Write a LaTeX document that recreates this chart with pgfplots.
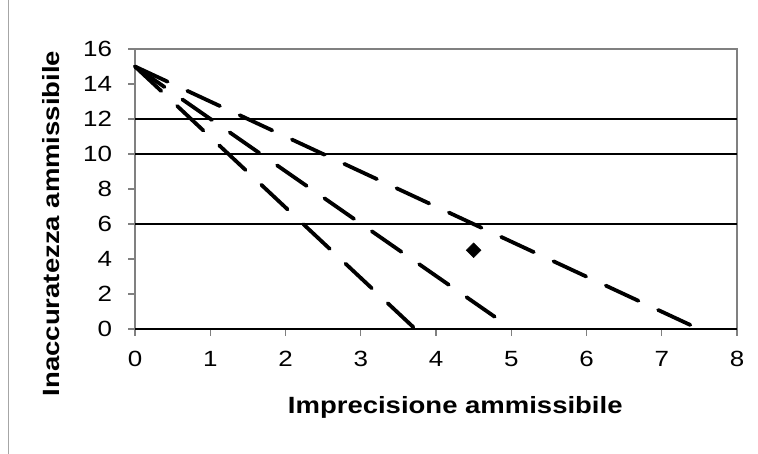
\documentclass[border=0pt]{standalone}
\usepackage{pgfplots}
\pgfplotsset{compat=1.18}
\usepackage{fontspec}
\setmainfont{Liberation Sans}
\begin{document}
\begin{tikzpicture}[x=1pt,y=1pt]
\useasboundingbox (0,0) rectangle (758,454);
\draw[gray!70, line width=1.4pt] (8.5,0) -- (8.5,454);
\begin{axis}[
  at={(135pt,125pt)}, anchor=south west,
  scale only axis, width=602pt, height=280pt,
  xmin=0, xmax=8, ymin=0, ymax=16,
  xtick={0,1,...,8}, ytick={0,2,...,16},
  tick align=outside, major tick length=7pt,
  xtick pos=bottom, ytick pos=left,
  tick style={gray, line width=1.2pt},
  axis line style={gray, line width=1.4pt},
  extra y ticks={0,6,10,12},
  extra y tick labels={},
  extra y tick style={major tick length=0pt, grid=major, major grid style={black, line width=1.2pt}},
  /pgf/number format/assume math mode=true,
  tick label style={font=\fontsize{22}{26}\selectfont, xscale=1.18},
  xticklabel style={yshift=-12pt},
  yticklabel style={xshift=-10pt},
  xlabel={\scalebox{1.17}[1]{Imprecisione ammissibile}},
  ylabel={\scalebox{1.17}[1]{Inaccuratezza ammissibile}},
  label style={font=\bfseries\fontsize{23.5}{27}\selectfont},
  xlabel style={at={(axis description cs:0.532,-0.279)}, anchor=center},
  ylabel style={at={(axis description cs:-0.1387,0.377)}, anchor=center},
  clip=false,
]
\addplot[black, line width=3.8pt, line cap=round, dash pattern=on 36pt off 21.7pt] coordinates {(0,15) (3.7,0.1)};
\addplot[black, line width=3.8pt, line cap=round, dash pattern=on 36pt off 21.7pt] coordinates {(0,15) (4.78,0.7)};
\addplot[black, line width=3.8pt, line cap=round, dash pattern=on 36pt off 21.7pt] coordinates {(0,15) (7.38,0.23)};
\addplot[only marks, mark=square*, mark size=5.2pt, mark options={rotate=45, fill=black, draw=black}] coordinates {(4.5,4.5)};
\end{axis}
\end{tikzpicture}
\end{document}
